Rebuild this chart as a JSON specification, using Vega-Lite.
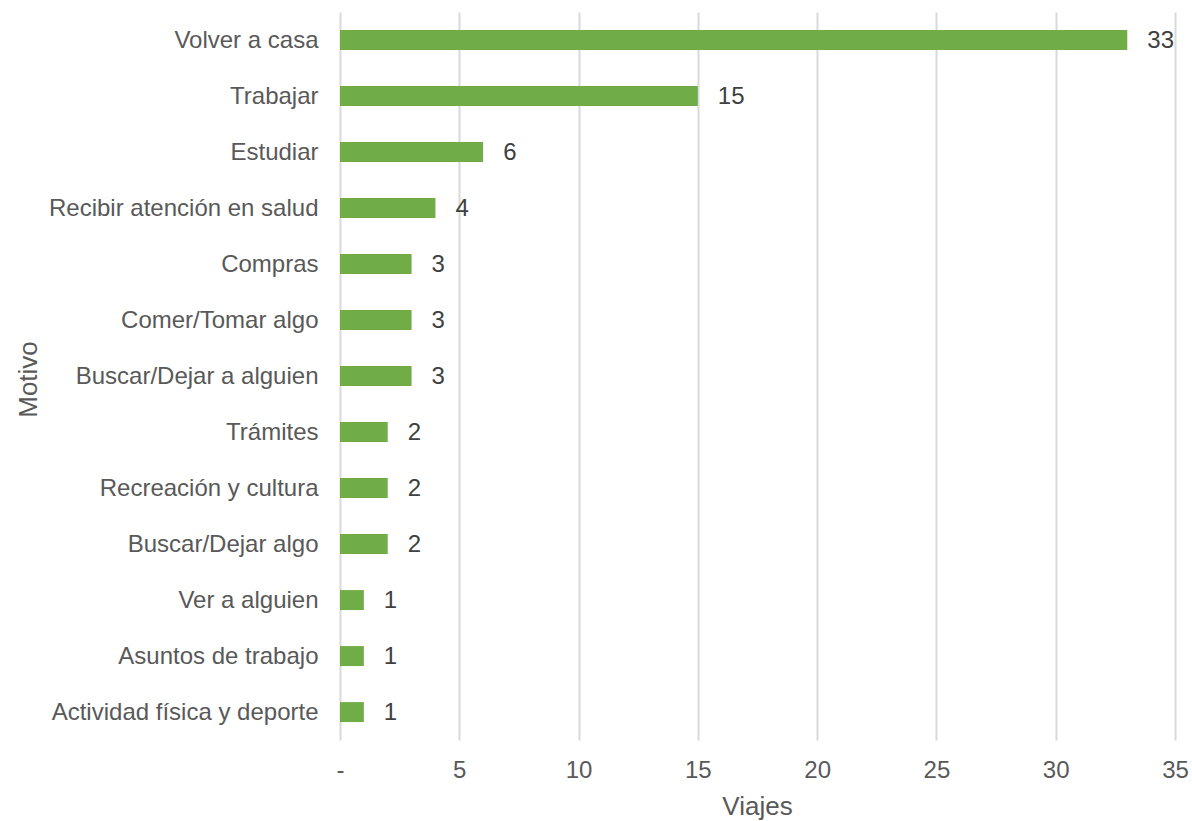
{
  "$schema": "https://vega.github.io/schema/vega-lite/v6.json",
  "autosize": {"type": "none"},
  "padding": {"left": 340, "top": 12, "right": 17, "bottom": 81},
  "width": 835,
  "height": 728,
  "background": "white",
  "config": {
    "font": "Liberation Sans",
    "view": {"stroke": null}
  },
  "data": {
    "values": [
      {"Motivo": "Volver a casa", "Viajes": 33},
      {"Motivo": "Trabajar", "Viajes": 15},
      {"Motivo": "Estudiar", "Viajes": 6},
      {"Motivo": "Recibir atención en salud", "Viajes": 4},
      {"Motivo": "Compras", "Viajes": 3},
      {"Motivo": "Comer/Tomar algo", "Viajes": 3},
      {"Motivo": "Buscar/Dejar a alguien", "Viajes": 3},
      {"Motivo": "Trámites", "Viajes": 2},
      {"Motivo": "Recreación y cultura", "Viajes": 2},
      {"Motivo": "Buscar/Dejar algo", "Viajes": 2},
      {"Motivo": "Ver a alguien", "Viajes": 1},
      {"Motivo": "Asuntos de trabajo", "Viajes": 1},
      {"Motivo": "Actividad física y deporte", "Viajes": 1}
    ]
  },
  "encoding": {
    "y": {
      "field": "Motivo",
      "type": "nominal",
      "sort": null,
      "scale": {"paddingInner": 0.643, "paddingOuter": 0.32},
      "axis": {
        "title": "Motivo",
        "titleFont": "Liberation Sans",
        "titleFontSize": 26,
        "titleFontWeight": "normal",
        "titleColor": "#595959",
        "titleX": -312,
        "titleY": 367,
        "titleAngle": -90,
        "titleAlign": "center",
        "titleBaseline": "middle",
        "labelFontSize": 24,
        "labelColor": "#595959",
        "labelPadding": 22,
        "labelLimit": 400,
        "labelOffset": 1,
        "ticks": false,
        "domain": false,
        "grid": false
      }
    },
    "x": {
      "field": "Viajes",
      "type": "quantitative",
      "scale": {"domain": [0, 35], "nice": false},
      "axis": {
        "title": "Viajes",
        "values": [0, 5, 10, 15, 20, 25, 30, 35],
        "labelExpr": "datum.value == 0 ? '-' : datum.label",
        "labelFlush": false,
        "labelOverlap": false,
        "titleFontSize": 26,
        "titleFontWeight": "normal",
        "titleColor": "#595959",
        "titleX": 417,
        "titleY": 66,
        "titleAlign": "center",
        "titleBaseline": "middle",
        "labelFontSize": 24,
        "labelColor": "#595959",
        "labelPadding": 18,
        "ticks": false,
        "domain": false,
        "grid": true,
        "gridColor": "#d9d9d9",
        "gridWidth": 2
      }
    }
  },
  "layer": [
    {"mark": {"type": "bar", "color": "#70AD47"}},
    {
      "mark": {"type": "text", "align": "left", "baseline": "middle", "dx": 20, "dy": 1, "fontSize": 24, "color": "#404040"},
      "encoding": {"text": {"field": "Viajes", "type": "quantitative"}}
    }
  ]
}
